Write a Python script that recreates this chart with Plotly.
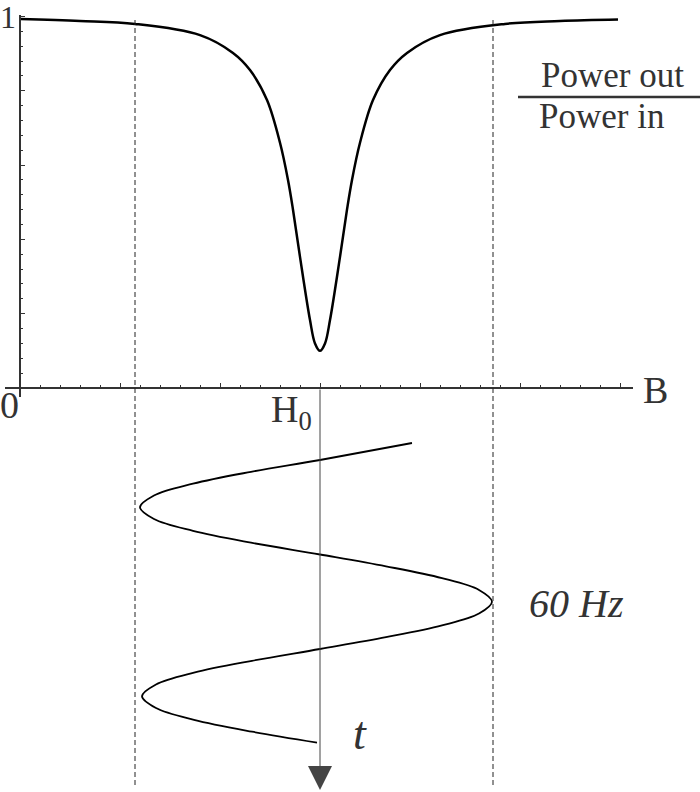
import plotly.graph_objects as go

# Resonance curve: field B (arb. units, H0 = 3) vs Power out / Power in
field_b = [0.0, 0.6, 1.15, 1.8, 2.13, 2.3, 2.47, 2.6, 2.68, 2.73, 2.8, 2.9, 2.95, 3.0,
           3.05, 3.1, 3.2, 3.27, 3.32, 3.4, 3.53, 3.7, 3.87, 4.2, 4.85, 5.4, 5.98]
power_ratio = [0.993, 0.988, 0.980, 0.950, 0.902, 0.856, 0.775, 0.660, 0.560, 0.480, 0.353,
               0.183, 0.120, 0.100, 0.120, 0.183, 0.353, 0.480, 0.560, 0.660, 0.775, 0.856,
               0.902, 0.950, 0.980, 0.988, 0.992]

# 60 Hz modulation of the field, read downward in time (quarter periods)
mod_time = [-0.36, 0.0, 0.25, 0.5, 0.75, 1.0, 1.25, 1.5, 1.75, 2.0, 2.25, 2.5, 2.75, 3.0,
            3.25, 3.5, 3.75, 4.0, 4.25, 4.5, 4.75, 5.0, 5.25, 5.5, 5.75, 5.98]
mod_field = [3.92, 3.0, 2.31, 1.73, 1.34, 1.20, 1.34, 1.73, 2.31, 3.0, 3.66, 4.22, 4.59, 4.72,
             4.59, 4.22, 3.66, 3.0, 2.32, 1.74, 1.36, 1.22, 1.36, 1.74, 2.32, 2.97]

H0 = 3.0
sweep_edges = [1.15, 4.73]

W, H = 700, 792
ML, MR = 5, 67
PW = W - ML - MR


def px(x):
    return (x - ML) / PW


def py(y):
    return (H - y) / H


TXT = "#333333"
SERIF = "Liberation Serif, Times New Roman, serif"

fig = go.Figure()
fig.add_trace(go.Scatter(x=field_b, y=power_ratio, mode="lines",
                         line=dict(color="black", width=2.5, shape="spline"),
                         xaxis="x", yaxis="y", hoverinfo="skip"))
fig.add_trace(go.Scatter(x=mod_field, y=mod_time, mode="lines",
                         line=dict(color="black", width=1.8, shape="spline"),
                         xaxis="x2", yaxis="y2", hoverinfo="skip"))

shapes = []
for xe in sweep_edges:
    shapes.append(dict(type="line", xref="x", yref="paper", x0=xe, x1=xe,
                       y0=py(785), y1=py(18),
                       line=dict(color="#222222", width=1, dash="5px,3px")))
shapes.append(dict(type="line", xref="paper", yref="paper", x0=px(518), x1=px(700),
                   y0=py(97), y1=py(97), line=dict(color="#333333", width=2.5)))

annotations = [
    dict(text="1", xref="paper", yref="paper", x=px(8), y=py(17), showarrow=False,
         font=dict(family=SERIF, size=32, color=TXT), xanchor="center", yanchor="middle"),
    dict(text="0", xref="paper", yref="paper", x=px(9), y=py(405), showarrow=False,
         font=dict(family=SERIF, size=38, color=TXT), xanchor="center", yanchor="middle"),
    dict(text="H<sub>0</sub>", xref="paper", yref="paper", x=px(314), y=py(412),
         showarrow=False, font=dict(family=SERIF, size=38, color=TXT),
         xanchor="right", yanchor="middle"),
    dict(text="B", xref="paper", yref="paper", x=px(655), y=py(390), showarrow=False,
         font=dict(family=SERIF, size=38, color=TXT), xanchor="center", yanchor="middle"),
    dict(text="Power out", xref="paper", yref="paper", x=px(612), y=py(76), showarrow=False,
         font=dict(family=SERIF, size=35, color=TXT), xanchor="center", yanchor="middle"),
    dict(text="Power in", xref="paper", yref="paper", x=px(601), y=py(116), showarrow=False,
         font=dict(family=SERIF, size=35, color=TXT), xanchor="center", yanchor="middle"),
    dict(text="<i>60 Hz</i>", xref="paper", yref="paper", x=px(576), y=py(603),
         showarrow=False, font=dict(family=SERIF, size=40, color=TXT),
         xanchor="center", yanchor="middle"),
    dict(text="<i>t</i>", xref="paper", yref="paper", x=px(360), y=py(733), showarrow=False,
         font=dict(family=SERIF, size=46, color=TXT), xanchor="center", yanchor="middle"),
    dict(text="", xref="x2", yref="paper", x=H0, y=py(790), ax=0, ay=-(790 - 388),
         axref="pixel", ayref="pixel", showarrow=True, arrowhead=2, arrowsize=4.8,
         arrowwidth=1, arrowcolor="#444444", standoff=0),
]

top_lo, top_hi = py(397), py(15)
fig.update_layout(
    width=W, height=H,
    margin=dict(l=ML, r=MR, t=0, b=0, pad=0),
    paper_bgcolor="white", plot_bgcolor="white",
    showlegend=False,
    xaxis=dict(domain=[0, 1], range=[-0.15, 6.13], anchor="free", position=py(388),
               showline=True, linewidth=2, linecolor="#333333",
               ticks="inside", ticklen=4, tickwidth=1, tickcolor="#333333",
               tick0=0, dtick=1, showticklabels=False, showgrid=False, zeroline=False,
               minor=dict(ticks="inside", ticklen=2, tickwidth=1, tickcolor="#333333",
                          dtick=0.2, showgrid=False)),
    yaxis=dict(domain=[top_lo, top_hi], range=[(388 - 397) / 371.5, (388 - 15) / 371.5],
               anchor="free", position=px(20),
               showline=True, linewidth=2, linecolor="#333333",
               ticks="inside", ticklen=4, tickwidth=1, tickcolor="#333333",
               tick0=0, dtick=0.2, showticklabels=False, showgrid=False, zeroline=False,
               minor=dict(ticks="inside", ticklen=2, tickwidth=1, tickcolor="#333333",
                          dtick=0.04, showgrid=False)),
    xaxis2=dict(domain=[0, 1], matches="x", anchor="y2", visible=False),
    yaxis2=dict(domain=[0, top_lo], range=[(792 - 460) / 47.25, (397 - 460) / 47.25],
                anchor="x2", visible=False),
    shapes=shapes,
    annotations=annotations,
)

fig.write_html("out.html", config={"displayModeBar": False},
               post_script="document.body.style.margin='0';document.body.style.overflow='hidden';")
